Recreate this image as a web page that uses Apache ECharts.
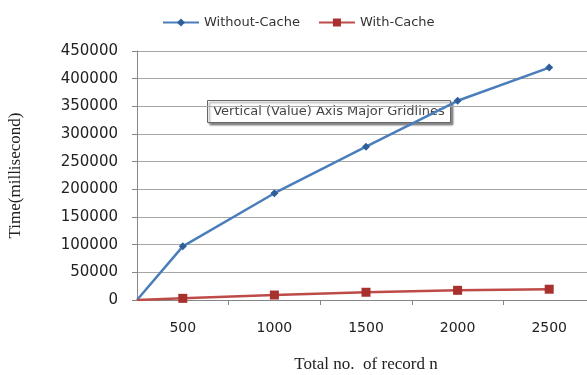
<!DOCTYPE html>
<html>
<head>
<meta charset="utf-8">
<script src="https://cdn.jsdelivr.net/npm/echarts@6/dist/echarts.min.js"></script>
<style>
  html, body { margin: 0; padding: 0; background: #fff; }
  #chart { width: 587px; height: 375px; }
</style>
</head>
<body>
<div id="chart"></div>
<script>
// Number of records loaded, and the measured response time for each run.
const recordCounts = [500, 1000, 1500, 2000, 2500];
const withoutCache = [97000, 193000, 277000, 360000, 420000];
const withCache = [3000, 9000, 14000, 17500, 19500];
const xTickLabels = [500, 1000, 1500, 2000, 2500];
const xTickMarks = [750, 1250, 1750, 2250];

// Horizontal axis runs half a step either side of the labelled counts.
const xMin = 250;
const xMax = 2750;

function buildSeries(values) {
  // Each line starts from zero at the left edge of the axis.
  const pts = [{ value: [xMin, 0], symbol: 'none' }];
  recordCounts.forEach((r, i) => pts.push([r, values[i]]));
  return pts;
}

const labelFont = 'DejaVu Sans, sans-serif';
const serifFont = 'Liberation Serif, Times New Roman, serif';
const plain = v => String(v);

const chart = echarts.init(document.getElementById('chart'));
chart.setOption({
  animation: false,
  color: ['#4a7ebb', '#be4b48'],
  legend: {
    top: 11,
    left: 157,
    itemWidth: 36,
    itemHeight: 10,
    itemGap: 18,
    textStyle: { fontFamily: labelFont, fontSize: 13, color: '#333' },
    data: ['Without-Cache', 'With-Cache']
  },
  grid: { left: 137, right: -8, top: 51, bottom: 75, outerBoundsMode: 'none', containLabel: false },
  xAxis: {
    type: 'value',
    min: xMin,
    max: xMax,
    name: 'Total no.  of record n',
    nameLocation: 'middle',
    nameGap: 56,
    nameTextStyle: { fontFamily: serifFont, fontSize: 17, color: '#222' },
    axisLine: { show: true, lineStyle: { color: '#868686', width: 1 } },
    axisTick: { show: true, customValues: xTickMarks, length: 5, inside: false, lineStyle: { color: '#868686' } },
    axisLabel: {
      customValues: xTickLabels,
      formatter: plain,
      margin: 21,
      fontFamily: labelFont, fontSize: 14, color: '#222'
    },
    splitLine: { show: false }
  },
  yAxis: {
    type: 'value',
    min: 0,
    max: 450000,
    interval: 50000,
    name: 'Time(millisecond)',
    nameLocation: 'middle',
    nameGap: 113,
    nameRotate: 90,
    nameTextStyle: { fontFamily: serifFont, fontSize: 17, color: '#222' },
    axisLine: { show: true, lineStyle: { color: '#868686', width: 1 } },
    axisTick: { show: true, length: 5, lineStyle: { color: '#868686' } },
    axisLabel: { margin: 19, formatter: plain, fontFamily: labelFont, fontSize: 15, color: '#222' },
    splitLine: { show: true, lineStyle: { color: '#a6a6a6', width: 1 } }
  },
  series: [
    {
      name: 'Without-Cache',
      type: 'line',
      data: buildSeries(withoutCache),
      symbol: 'diamond',
      symbolSize: 8,
      lineStyle: { width: 2.5, color: '#4a7ebb' },
      itemStyle: { color: '#2f5f9a' }
    },
    {
      name: 'With-Cache',
      type: 'line',
      data: buildSeries(withCache),
      symbol: 'rect',
      symbolSize: 9,
      lineStyle: { width: 2.5, color: '#be4b48' },
      itemStyle: { color: '#a8302e' }
    }
  ],
  graphic: [
    {
      type: 'group',
      left: 207,
      top: 100,
      z: 100,
      children: [
        {
          type: 'rect',
          shape: { x: 0, y: 0, width: 243, height: 22 },
          style: {
            fill: '#ffffff', stroke: '#666', lineWidth: 1,
            shadowBlur: 2, shadowOffsetX: 2, shadowOffsetY: 2, shadowColor: 'rgba(0,0,0,0.45)'
          }
        },
        {
          type: 'text',
          x: 121.5,
          y: 11,
          style: {
            text: 'Vertical (Value) Axis Major Gridlines',
            fontFamily: labelFont, fontSize: 13, fill: '#444',
            align: 'center', verticalAlign: 'middle'
          }
        }
      ]
    }
  ]
});
</script>
</body>
</html>
